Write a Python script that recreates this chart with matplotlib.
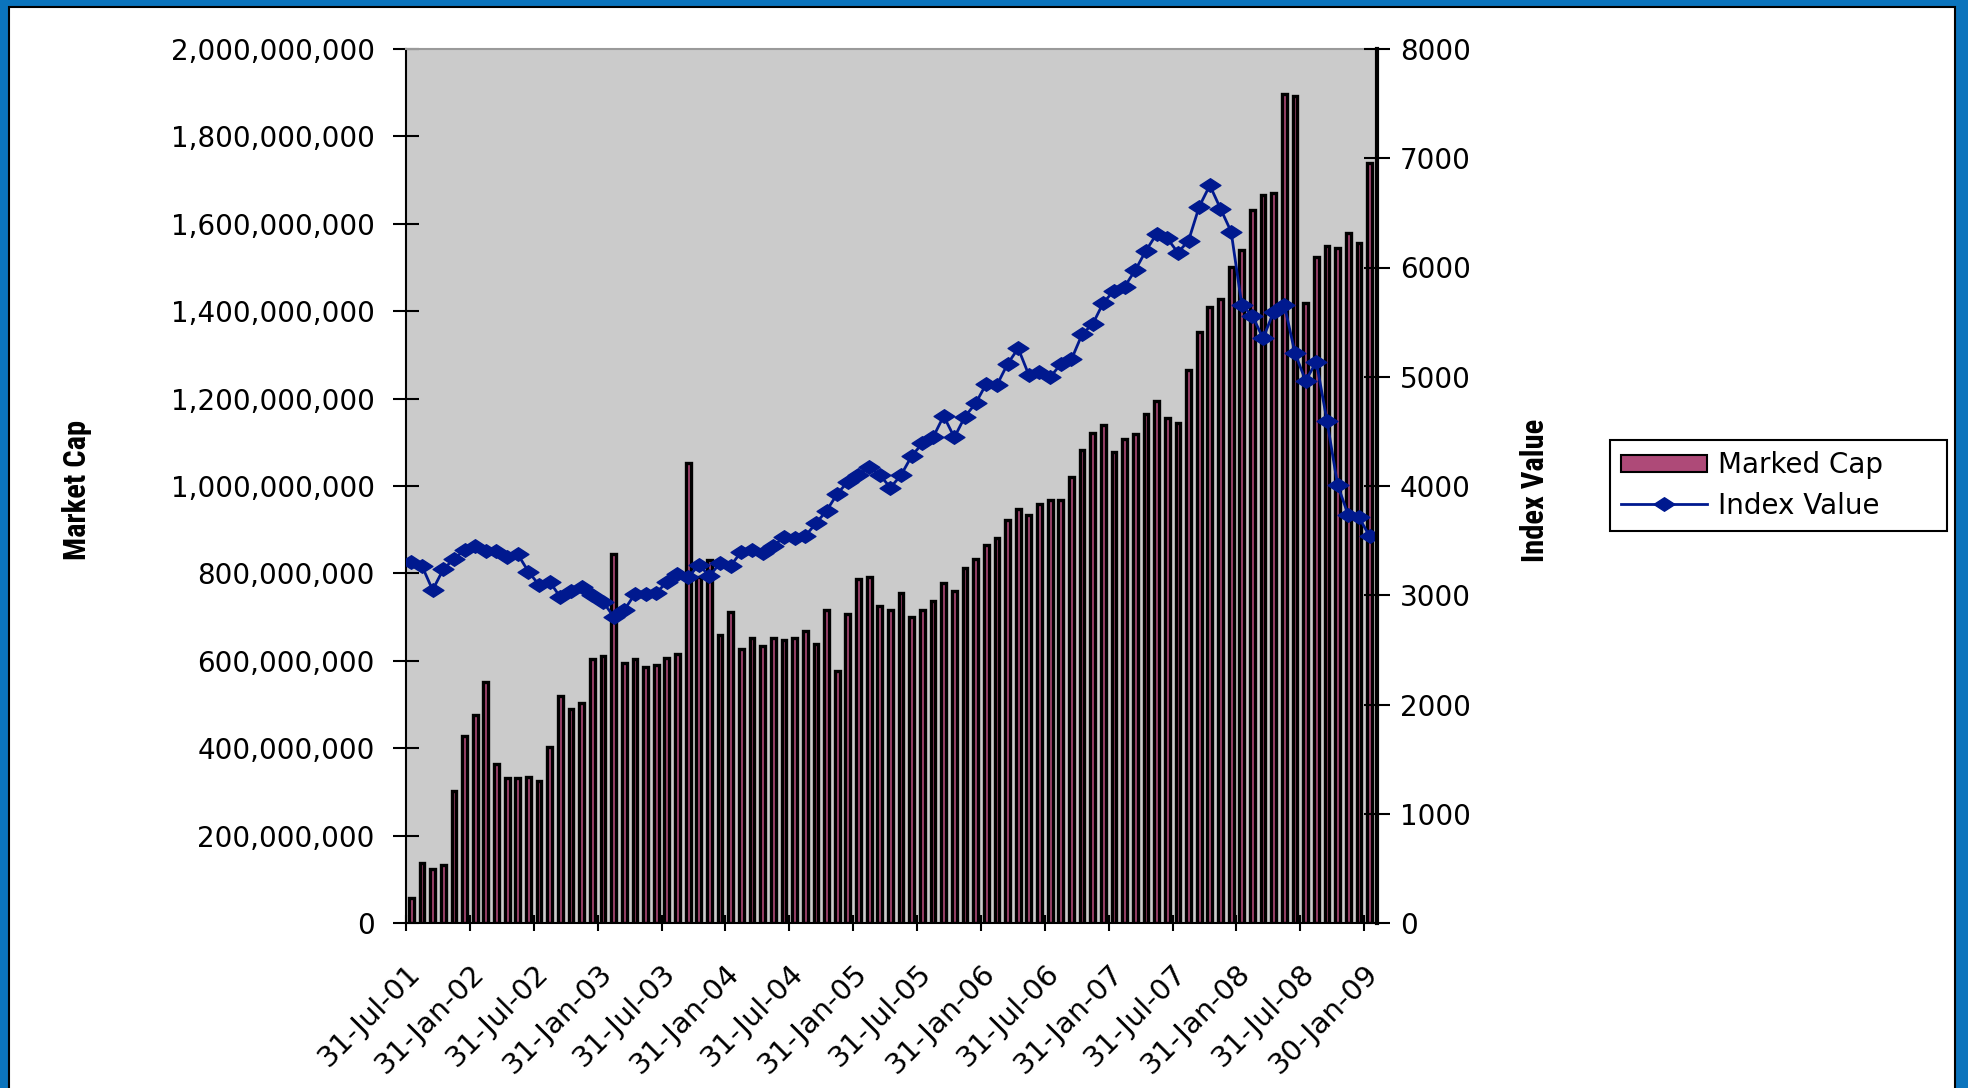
import matplotlib
matplotlib.use("Agg")
import matplotlib.pyplot as plt
import numpy as np
from matplotlib.patches import Rectangle, Patch
from matplotlib.lines import Line2D
from matplotlib.path import Path
from matplotlib.ticker import FuncFormatter, FixedLocator

# monthly market cap, millions (Jul-01 .. Jan-09)
market_cap_m = [
    57, 137, 123, 132, 302, 427, 475, 552, 364, 331,
    331, 335, 326, 403, 519, 489, 504, 605, 610, 845,
    596, 605, 586, 591, 606, 615, 1053, 792, 830, 658,
    711, 628, 653, 634, 653, 648, 653, 668, 638, 716,
    576, 706, 788, 792, 725, 716, 755, 701, 717, 736,
    779, 760, 812, 832, 866, 880, 923, 948, 933, 958,
    967, 967, 1020, 1082, 1121, 1140, 1077, 1107, 1120, 1164,
    1194, 1155, 1145, 1266, 1353, 1409, 1429, 1502, 1540, 1632,
    1665, 1670, 1896, 1892, 1419, 1525, 1550, 1545, 1579, 1555,
    1738,
]

index_value = [
    3307, 3268, 3048, 3237, 3332, 3414, 3451, 3408, 3405, 3353,
    3375, 3216, 3094, 3124, 2981, 3042, 3079, 3002, 2941, 2804,
    2865, 3011, 3010, 3024, 3118, 3195, 3164, 3277, 3179, 3292,
    3271, 3399, 3414, 3384, 3451, 3530, 3521, 3542, 3658, 3774,
    3927, 4040, 4101, 4177, 4101, 3985, 4101, 4275, 4390, 4445,
    4641, 4445, 4635, 4757, 4934, 4924, 5117, 5260, 5016, 5047,
    4995, 5117, 5159, 5388, 5483, 5678, 5788, 5825, 5977, 6154,
    6307, 6267, 6136, 6246, 6557, 6752, 6539, 6328, 5657, 5556,
    5352, 5596, 5657, 5214, 4964, 5138, 4598, 4009, 3735, 3713,
    3542,
]

tick_labels = [
    "31-Jul-01", "31-Jan-02", "31-Jul-02", "31-Jan-03", "31-Jul-03",
    "31-Jan-04", "31-Jul-04", "31-Jan-05", "31-Jul-05", "31-Jan-06",
    "31-Jul-06", "31-Jan-07", "31-Jul-07", "31-Jan-08", "31-Jul-08",
    "30-Jan-09",
]
tick_months = list(range(0, 91, 6))

PINK = "#ae4a78"
NAVY = "#00198f"
PLOT_BG = "#cbcbcb"

# wide, flat diamond like the Excel marker
diamond = Path([(-1, 0), (0, 0.65), (1, 0), (0, -0.65), (-1, 0)],
               [Path.MOVETO, Path.LINETO, Path.LINETO, Path.LINETO, Path.CLOSEPOLY])

W, H = 1968, 1088
fig = plt.figure(figsize=(W / 100, H / 100), dpi=100)

# blue slide frame with white inner panel
fig.patches.append(Rectangle((0, 0), 1, 1, transform=fig.transFigure,
                             facecolor="#0b74bd", edgecolor="none", zorder=-10))
fig.patches.append(Rectangle((9 / W, -0.01), (1955 - 9) / W, 1081 / H + 0.01,
                             transform=fig.transFigure, facecolor="white",
                             edgecolor="black", linewidth=1.5, zorder=-9))

ax = fig.add_axes([406 / W, 1 - 923 / H, (1377 - 406) / W, (923 - 49) / H])
ax.set_facecolor(PLOT_BG)

x = np.arange(len(market_cap_m)) + 0.5
ax.bar(x, np.array(market_cap_m) * 1e6, width=0.45, color=PINK,
       edgecolor="black", linewidth=2.4)

ax.set_xlim(0, 91.2)
ax.set_ylim(0, 2e9)
ax.yaxis.set_major_locator(FixedLocator(np.arange(0, 2.01e9, 2e8)))
ax.yaxis.set_major_formatter(FuncFormatter(lambda v, p: f"{v:,.0f}"))
ax.set_xticks(tick_months)
ax.set_xticklabels(tick_labels, rotation=45, ha="right", rotation_mode="anchor")
ax.tick_params(axis="x", direction="inout", length=12, width=1.5, pad=20, labelsize=21)
ax.tick_params(axis="y", direction="inout", length=19, width=1.5, pad=13, labelsize=20)

ax.spines["top"].set_color("#9a9a9a")
ax.spines["top"].set_linewidth(1.5)
ax.spines["right"].set_visible(False)
ax.spines["left"].set_linewidth(1.5)
ax.spines["bottom"].set_linewidth(1.5)

ax2 = ax.twinx()
ax2.plot(x, index_value, color=NAVY, linewidth=2, marker=diamond, markersize=15,
         markerfacecolor=NAVY, markeredgecolor=NAVY)
ax2.set_ylim(0, 8000)
ax2.set_yticks(range(0, 8001, 1000))
ax2.tick_params(axis="y", direction="inout", length=19, width=1.5, pad=7, labelsize=20)
for side in ["left", "top", "bottom"]:
    ax2.spines[side].set_visible(False)
ax2.spines["right"].set_linewidth(3)

label_font = ["Liberation Sans Narrow", "Roboto Condensed", "Open Sans Condensed",
              "Noto Sans Condensed", "DejaVu Sans"]
for xpos, txt in [(77, "Market Cap"), (1535, "Index Value")]:
    fig.text(xpos / W, 1 - 490 / H, txt, rotation=90, ha="center", va="center",
             fontsize=22, fontweight="bold", family=label_font, fontstretch="condensed")

handles = [
    Patch(facecolor=PINK, edgecolor="black", linewidth=1.5, label="Marked Cap"),
    Line2D([], [], color=NAVY, linewidth=2, marker=diamond, markersize=15,
           markerfacecolor=NAVY, markeredgecolor=NAVY, label="Index Value"),
]
leg = fig.legend(handles=handles, loc="upper left",
                 bbox_to_anchor=(1610 / W, 1 - 528 / H, 337 / W, 88 / H),
                 mode="expand", fontsize=20, frameon=True, fancybox=False,
                 edgecolor="black", framealpha=1, handlelength=3.1,
                 handleheight=0.6, handletextpad=0.4, labelspacing=0.45,
                 borderpad=0.4, borderaxespad=0)
leg.get_frame().set_linewidth(1.5)

fig.savefig("out.png", dpi=100)
